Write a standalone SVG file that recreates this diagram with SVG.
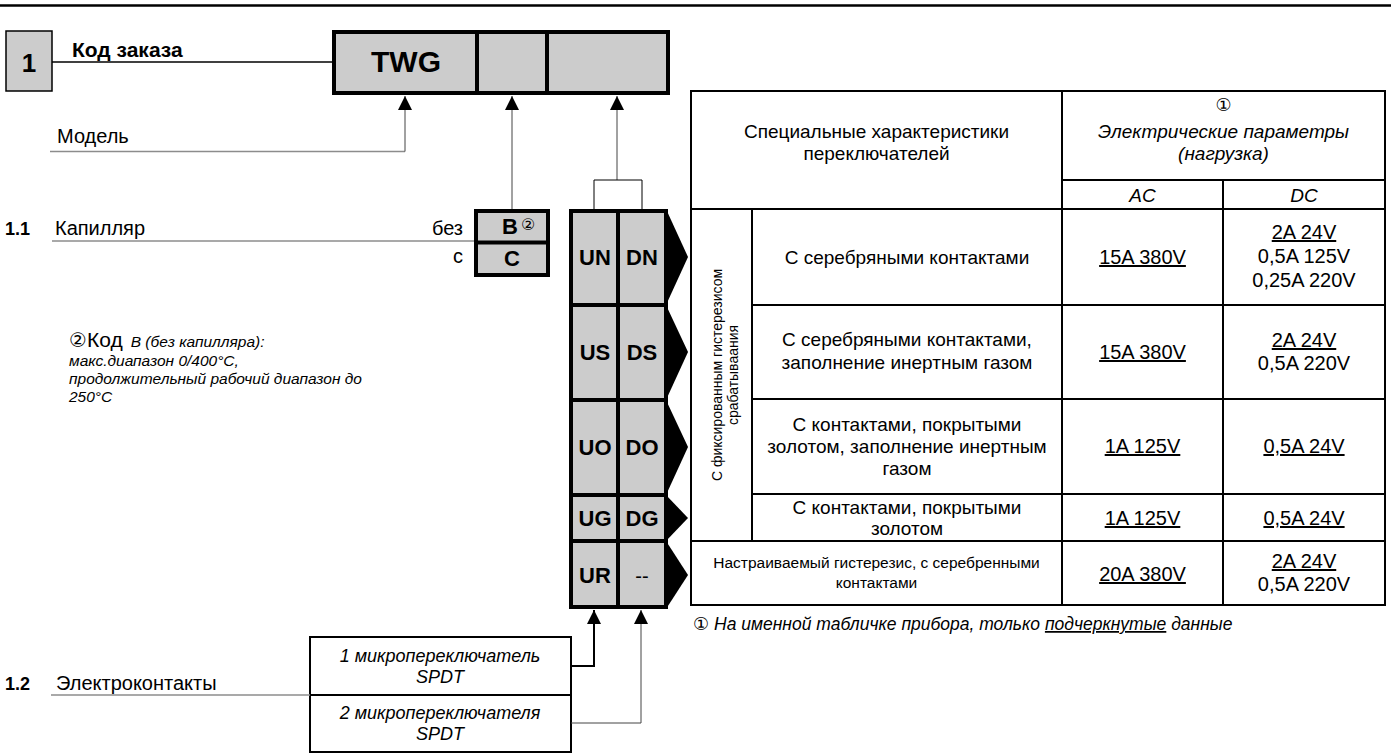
<svg xmlns="http://www.w3.org/2000/svg" width="1391" height="753" viewBox="0 0 1391 753">
<style>
text{font-family:"Liberation Sans",Arial,sans-serif;fill:#000}
.lbl{font-size:20px}
.b{font-weight:bold}
.it{font-style:italic}
.c{text-anchor:middle}
.r{text-anchor:end}
.circ{font-family:"DejaVu Sans","Noto Sans CJK JP",sans-serif}
.thick{fill:#cccccc;stroke:#000;stroke-width:4}
.tl{stroke:#000;stroke-width:2;fill:none}
.gl{stroke:#8c8c8c;stroke-width:1.5;fill:none}
.cn{stroke:#444;stroke-width:1;fill:none}
.code{font-size:22px;font-weight:bold;text-anchor:middle}
.tt{font-size:19px;text-anchor:middle}
.val{font-size:20px;text-anchor:middle}
.u{text-decoration:underline}
.note{font-size:15.5px;font-style:italic}
.sw{font-size:18px;font-style:italic;text-anchor:middle}
</style>
<defs>
<marker id="ah" viewBox="0 0 14 14" refX="14" refY="7" markerWidth="14" markerHeight="14" markerUnits="userSpaceOnUse" orient="auto"><path d="M0,0 L14,7 L0,14 z" fill="#000"/></marker>
</defs>

<line x1="0" y1="5.5" x2="1391" y2="5.5" stroke="#000" stroke-width="2.5"/>

<g id="section1">
<rect x="6" y="31" width="46" height="60" fill="#cccccc" stroke="#000" stroke-width="1.5"/>
<text x="29" y="72" class="c b" font-size="26">1</text>
<text x="72" y="57" class="b" font-size="21">Код заказа</text>
</g>

<g id="order-code">
<rect x="334" y="32" width="334" height="61" class="thick"/>
<line x1="477" y1="32" x2="477" y2="93" stroke="#000" stroke-width="4"/>
<line x1="547" y1="32" x2="547" y2="93" stroke="#000" stroke-width="4"/>
<text x="406" y="72" class="c b" font-size="30">TWG</text>
</g>

<g id="model">
<text x="57" y="143" class="lbl">Модель</text>
</g>

<g id="capillary">
<text x="5" y="235" class="b" font-size="18">1.1</text>
<text x="55" y="235" class="lbl">Капилляр</text>
<text x="463" y="235" class="lbl r">без</text>
<text x="463" y="263" class="lbl r">с</text>
<rect x="476" y="211" width="72" height="64" class="thick"/>
<line x1="476" y1="242.5" x2="548" y2="242.5" stroke="#000" stroke-width="4"/>
<text x="510" y="234" class="code">B</text>
<text x="521" y="230" class="circ" font-size="16">②</text>
<text x="512" y="266" class="code">C</text>
</g>

<g id="capillary-note">
<text x="69" y="347"><tspan class="circ" font-size="20">②</tspan><tspan font-size="21">Код</tspan><tspan class="note" dx="8">B (без капилляра):</tspan></text>
<text x="69" y="366" class="note">макс.диапазон 0/400°C,</text>
<text x="69" y="384" class="note">продолжительный рабочий диапазон до</text>
<text x="69" y="402" class="note">250°C</text>
</g>

<g id="switch-codes">
<rect x="571" y="211" width="95" height="396" class="thick"/>
<line x1="618" y1="211" x2="618" y2="607" stroke="#000" stroke-width="4"/>
<line x1="571" y1="305" x2="666" y2="305" stroke="#000" stroke-width="4"/>
<line x1="571" y1="400" x2="666" y2="400" stroke="#000" stroke-width="4"/>
<line x1="571" y1="495" x2="666" y2="495" stroke="#000" stroke-width="4"/>
<line x1="571" y1="541" x2="666" y2="541" stroke="#000" stroke-width="4"/>
<polygon points="666,209 688,257 666,305" fill="#000"/>
<polygon points="666,305 688,352 666,400" fill="#000"/>
<polygon points="666,400 688,447 666,495" fill="#000"/>
<polygon points="666,495 688,518 666,541" fill="#000"/>
<polygon points="666,541 688,575 666,609" fill="#000"/>
<text x="595" y="265" class="code">UN</text>
<text x="642" y="265" class="code">DN</text>
<text x="595" y="360" class="code">US</text>
<text x="642" y="360" class="code">DS</text>
<text x="595" y="455" class="code">UO</text>
<text x="642" y="455" class="code">DO</text>
<text x="595" y="526" class="code">UG</text>
<text x="642" y="526" class="code">DG</text>
<text x="595" y="583" class="code">UR</text>
<text x="642" y="583" class="c" font-size="20">--</text>
</g>

<g id="contacts">
<text x="5" y="690" class="b" font-size="18">1.2</text>
<text x="56" y="690" class="lbl">Электроконтакты</text>
<rect x="310" y="637" width="261" height="58" fill="#fff" stroke="#000" stroke-width="2"/>
<rect x="310" y="695" width="261" height="57" fill="#fff" stroke="#000" stroke-width="2"/>
<text x="440" y="662" class="sw">1 микропереключатель</text>
<text x="440" y="683" class="sw">SPDT</text>
<text x="440" y="719" class="sw">2 микропереключателя</text>
<text x="440" y="740" class="sw">SPDT</text>
</g>

<g id="connectors">
<line x1="52" y1="62" x2="332" y2="62" stroke="#000" stroke-width="1.5"/>
<path d="M50,151.5 H405" class="gl"/>
<path d="M405,151.5 V96" class="cn" marker-end="url(#ah)"/>
<path d="M512,209 V96" class="cn" marker-end="url(#ah)"/>
<path d="M617,180 V96" class="cn" marker-end="url(#ah)"/>
<polyline points="594,209 594,180 642,180 642,209" fill="none" stroke="#000" stroke-width="1"/>
<path d="M52,241 H474" class="gl"/>
<path d="M51,695 H310" class="gl"/>
<path d="M571,666 H594 V610" fill="none" stroke="#000" stroke-width="2" marker-end="url(#ah)"/>
<path d="M571,723 H641 V610" class="cn" marker-end="url(#ah)"/>
</g>

<g id="table">
<rect x="691" y="91" width="694" height="514" class="tl"/>
<line x1="1062" y1="91" x2="1062" y2="605" class="tl"/>
<line x1="1223" y1="180" x2="1223" y2="605" class="tl"/>
<line x1="1062" y1="180" x2="1385" y2="180" class="tl"/>
<line x1="691" y1="209" x2="1385" y2="209" class="tl"/>
<line x1="752" y1="305" x2="1385" y2="305" class="tl"/>
<line x1="752" y1="399" x2="1385" y2="399" class="tl"/>
<line x1="752" y1="494" x2="1385" y2="494" class="tl"/>
<line x1="691" y1="541" x2="1385" y2="541" class="tl"/>
<line x1="752" y1="209" x2="752" y2="541" class="tl"/>

<text x="876.5" y="138" class="tt">Специальные характеристики</text>
<text x="876.5" y="160" class="tt">переключателей</text>
<text x="1223.5" y="111" class="circ c" font-size="18">①</text>
<text x="1223.5" y="138" class="tt it">Электрические параметры</text>
<text x="1223.5" y="160" class="tt it">(нагрузка)</text>
<text x="1142.5" y="202" class="tt it">AC</text>
<text x="1304" y="202" class="tt it">DC</text>

<text transform="rotate(-90 722 375)" x="722" y="375" class="c" font-size="14">С фиксированным гистерезисом</text>
<text transform="rotate(-90 738 375)" x="738" y="375" class="c" font-size="14">срабатываания</text>

<text x="907" y="264" class="tt">С серебряными контактами</text>
<text x="1142.5" y="264" class="val u">15A 380V</text>
<text x="1304" y="239" class="val u">2A 24V</text>
<text x="1304" y="263" class="val">0,5A 125V</text>
<text x="1304" y="287" class="val">0,25A 220V</text>

<text x="907" y="346" class="tt">С серебряными контактами,</text>
<text x="907" y="369" class="tt">заполнение инертным газом</text>
<text x="1142.5" y="359" class="val u">15A 380V</text>
<text x="1304" y="347" class="val u">2A 24V</text>
<text x="1304" y="370" class="val">0,5A 220V</text>

<text x="907" y="431" class="tt">С контактами, покрытыми</text>
<text x="907" y="453" class="tt">золотом, заполнение инертным</text>
<text x="907" y="475" class="tt">газом</text>
<text x="1142.5" y="453" class="val u">1A 125V</text>
<text x="1304" y="453" class="val u">0,5A 24V</text>

<text x="907" y="514" class="tt">С контактами, покрытыми</text>
<text x="907" y="535" class="tt">золотом</text>
<text x="1142.5" y="525" class="val u">1A 125V</text>
<text x="1304" y="525" class="val u">0,5A 24V</text>

<text x="876.5" y="568" class="c" font-size="15.5">Настраиваемый гистерезис, с серебренными</text>
<text x="876.5" y="588" class="c" font-size="15.5">контактами</text>
<text x="1142.5" y="581" class="val u">20A 380V</text>
<text x="1304" y="568" class="val u">2A 24V</text>
<text x="1304" y="591" class="val">0,5A 220V</text>
</g>

<g id="footnote">
<text x="693" y="630" font-size="17.5"><tspan class="circ" font-size="18">①</tspan><tspan class="it"> На именной табличке прибора, только </tspan><tspan class="it u">подчеркнутые</tspan><tspan class="it"> данные</tspan></text>
</g>
</svg>
